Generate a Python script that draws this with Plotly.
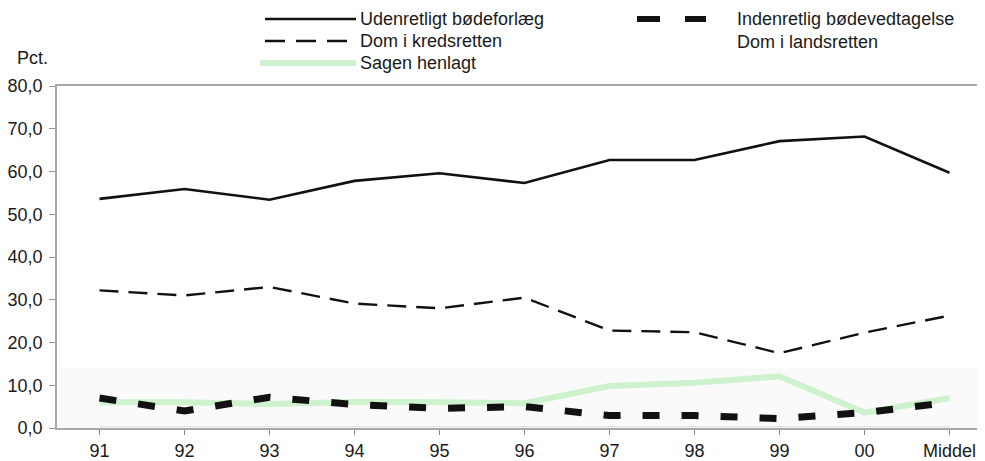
import plotly.graph_objects as go

categories = ["91", "92", "93", "94", "95", "96", "97", "98", "99", "00", "Middel"]
udenretligt = [53.6, 55.9, 53.4, 57.8, 59.6, 57.3, 62.7, 62.7, 67.1, 68.2, 59.7]
kredsretten = [32.2, 31.0, 33.0, 29.1, 28.0, 30.5, 22.8, 22.4, 17.5, 22.3, 26.3]
henlagt = [6.0, 6.0, 5.6, 6.1, 6.0, 5.8, 9.8, 10.6, 12.1, 3.6, 7.0]
indenretlig = [7.0, 4.0, 7.2, 5.5, 4.6, 5.0, 2.9, 2.9, 2.2, 3.6, 6.0]
landsretten = [0.3, 0.3, 0.3, 0.3, 0.3, 0.3, 0.3, 0.3, 0.3, 0.3, 0.3]
y_ticks = [0, 10, 20, 30, 40, 50, 60, 70, 80]
y_ticklabels = ["0,0", "10,0", "20,0", "30,0", "40,0", "50,0", "60,0", "70,0", "80,0"]

FONT = "Liberation Sans, Arial, Helvetica, sans-serif"
OFF = 8  # page body margin
W, H = 985 - OFF, 461 - OFF
PLOT_L, PLOT_T, PLOT_B = 57, 86, 428  # absolute page pixels
L, T = PLOT_L - OFF, PLOT_T - OFF
B = H - (PLOT_B - OFF)
R = 0
PW, PH = W - L - R, H - T - B


def px(x):
    return (x - PLOT_L) / PW


def py(y):
    return (PLOT_B - y) / PH


x_idx = list(range(len(categories)))
fig = go.Figure()
fig.add_trace(go.Scatter(x=x_idx, y=landsretten, mode="lines", name="Dom i landsretten",
                         line=dict(color="rgba(150,150,150,0.3)", width=1)))
fig.add_trace(go.Scatter(x=x_idx, y=henlagt, mode="lines", name="Sagen henlagt",
                         line=dict(color="#cdf2cd", width=6)))
fig.add_trace(go.Scatter(x=x_idx, y=indenretlig, mode="lines", name="Indenretlig bødevedtagelse",
                         line=dict(color="#111111", width=7, dash="17px,22px")))
fig.add_trace(go.Scatter(x=x_idx, y=kredsretten, mode="lines", name="Dom i kredsretten",
                         line=dict(color="#111111", width=2.4, dash="19px,10px")))
fig.add_trace(go.Scatter(x=x_idx, y=udenretligt, mode="lines", name="Udenretligt bødeforlæg",
                         line=dict(color="#111111", width=2.6)))

shapes = [
    dict(type="rect", xref="paper", yref="y", x0=0, x1=1, y0=0, y1=14,
         fillcolor="#fafafa", line=dict(width=0), layer="below"),
    dict(type="line", xref="paper", yref="paper", x0=px(265), x1=px(356), y0=py(19), y1=py(19),
         line=dict(color="#111111", width=2.6)),
    dict(type="line", xref="paper", yref="paper", x0=px(265), x1=px(356), y0=py(41), y1=py(41),
         line=dict(color="#111111", width=2.4, dash="20px,11px")),
    dict(type="line", xref="paper", yref="paper", x0=px(260), x1=px(356), y0=py(63), y1=py(63),
         line=dict(color="#cdf2cd", width=6)),
    dict(type="rect", xref="paper", yref="paper", x0=px(637), x1=px(660), y0=py(16), y1=py(22),
         fillcolor="#111111", line=dict(width=0)),
    dict(type="rect", xref="paper", yref="paper", x0=px(685), x1=px(706), y0=py(16), y1=py(22),
         fillcolor="#111111", line=dict(width=0)),
]

ann_font = dict(family=FONT, size=18, color="#1a1a1a")
annotations = [
    dict(text="Udenretligt bødeforlæg", x=px(358), y=py(19)),
    dict(text="Dom i kredsretten", x=px(358), y=py(41)),
    dict(text="Sagen henlagt", x=px(358), y=py(63)),
    dict(text="Indenretlig bødevedtagelse", x=px(735), y=py(19)),
    dict(text="Dom i landsretten", x=px(735), y=py(42)),
    dict(text="Pct.", x=px(15), y=py(58)),
]
annotations = [dict(a, xref="paper", yref="paper", xanchor="left", yanchor="middle",
                    showarrow=False, font=ann_font) for a in annotations]

fig.update_layout(
    width=W, height=H,
    margin=dict(l=L, r=R, t=T, b=B, pad=0, autoexpand=False),
    paper_bgcolor="white", plot_bgcolor="white",
    showlegend=False,
    shapes=shapes,
    annotations=annotations,
    font=dict(family=FONT, size=18, color="#1a1a1a"),
)
fig.update_xaxes(
    range=[-0.5, -0.5 + PW / 85.0], tickmode="array", tickvals=x_idx, ticktext=categories,
    showgrid=False, zeroline=False, showline=True, linecolor="#a8a8a8", linewidth=1.5,
    mirror=True, ticks="outside", tickson="boundaries", ticklen=5, tickcolor="#888888",
    ticklabelstandoff=1, automargin=False,
    tickfont=dict(family=FONT, size=18, color="#1a1a1a"),
)
fig.update_yaxes(
    range=[0, 80], tickmode="array", tickvals=y_ticks, ticktext=y_ticklabels,
    showgrid=False, zeroline=False, showline=True, linecolor="#a8a8a8", linewidth=1.5,
    ticks="outside", ticklen=6, tickcolor="#999999", ticklabelstandoff=3, automargin=False,
    tickfont=dict(family=FONT, size=18, color="#1a1a1a"),
)

fig.write_html("out.html")
